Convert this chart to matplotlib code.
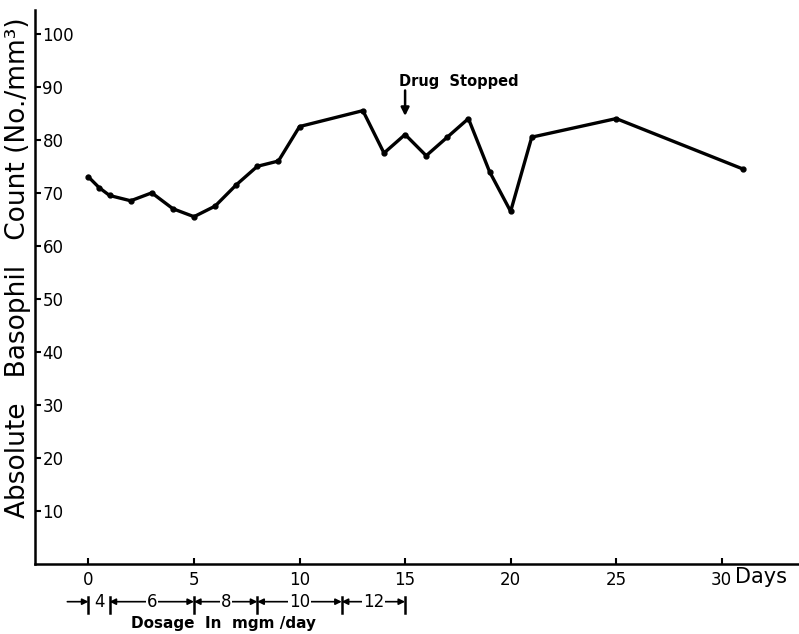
import matplotlib
matplotlib.use("Agg")
import matplotlib.pyplot as plt

# basophil count by day
days = [0, 0.5, 1, 2, 3, 4, 5, 6, 7, 8, 9, 10, 13, 14, 15, 16, 17, 18, 19, 20, 21, 25, 31]
counts = [73, 71, 69.5, 68.5, 70, 67, 65.5, 67.5, 71.5, 75, 76, 82.5, 85.5, 77.5, 81, 77,
          80.5, 84, 74, 66.5, 80.5, 84, 74.5]

# dosage schedule (mgm/day) between day marks
dose_edges = [0, 1, 5, 8, 12, 15]
doses = ["4", "6", "8", "10", "12"]

x_ticks = [0, 5, 10, 15, 20, 25, 30]
y_ticks = [10, 20, 30, 40, 50, 60, 70, 80, 90, 100]

fig = plt.figure(figsize=(7.99, 6.34), dpi=100)
ax = fig.add_axes([0.0444, 0.1104, 0.954, 0.874])

ax.plot(days, counts, color="black", lw=2.4, marker="o", markersize=3.5)

ax.set_xlim(-2.51, 33.6)
ax.set_ylim(0, 104.5)
ax.spines["top"].set_visible(False)
ax.spines["right"].set_visible(False)
for s in ("left", "bottom"):
    ax.spines[s].set_linewidth(1.8)

ax.set_xticks(x_ticks)
ax.set_xticklabels([str(t) for t in x_ticks])
ax.set_yticks(y_ticks)
ax.set_yticklabels([str(t) for t in y_ticks])
ax.tick_params(axis="x", direction="in", length=4, width=1.5, labelsize=12, pad=5)
ax.tick_params(axis="y", direction="in", length=4, width=1.5, labelsize=12, pad=-5)
for lbl in ax.get_yticklabels():
    lbl.set_horizontalalignment("left")

ax.text(33.1, -0.024, "Days", transform=ax.get_xaxis_transform(), ha="right", va="center", fontsize=15)

ax.set_ylabel("Absolute   Basophil   Count (No./mm³)", fontsize=19)
ax.yaxis.label.set_verticalalignment("center")
ax.yaxis.set_label_coords(-0.0235, 0.535)

# drug stopped marker
ax.text(14.7, 91, "Drug  Stopped", fontsize=10.5, fontweight="bold", ha="left", va="center")
ax.annotate("", xy=(15, 84.5), xytext=(15, 89.3),
            arrowprops=dict(arrowstyle="-|>", color="black", lw=1.8, mutation_scale=12,
                            shrinkA=0, shrinkB=0))

# dosage row under the axis
trans = ax.get_xaxis_transform()
ya = -0.068
for e in dose_edges:
    ax.plot([e, e], [-0.059, -0.088], transform=trans, clip_on=False, color="black", lw=1.8)

ax.annotate("", xy=(0, ya), xytext=(-1.0, ya), xycoords=trans, textcoords=trans,
            arrowprops=dict(arrowstyle="-|>", color="black", lw=1.2, mutation_scale=9,
                            shrinkA=0, shrinkB=0))
for i, d in enumerate(doses):
    a, b = dose_edges[i], dose_edges[i + 1]
    if i > 0:
        ax.annotate("", xy=(a, ya), xytext=(b, ya), xycoords=trans, textcoords=trans,
                    arrowprops=dict(arrowstyle="<|-|>", color="black", lw=1.2, mutation_scale=9,
                                    shrinkA=0, shrinkB=0))
    ax.text((a + b) / 2, ya, d, transform=trans, ha="center", va="center", fontsize=12,
            bbox=dict(facecolor="white", edgecolor="none", pad=0.5), clip_on=False)

ax.text(6.4, -0.108, "Dosage  In  mgm /day", transform=trans, ha="center", va="center",
        fontsize=11, fontweight="bold")

fig.savefig("out.png", dpi=100)
